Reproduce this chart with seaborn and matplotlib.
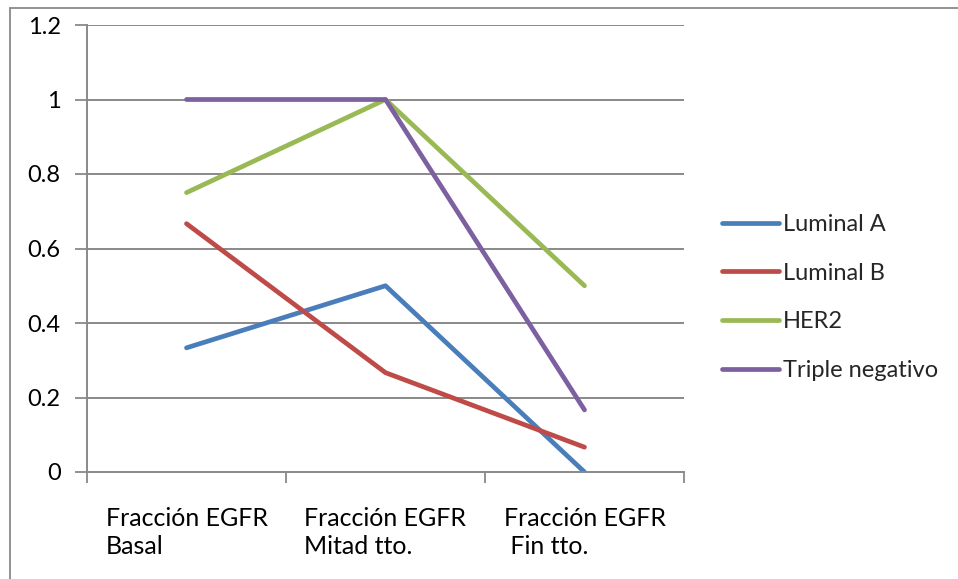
import matplotlib
matplotlib.use("Agg")
import matplotlib.pyplot as plt
from matplotlib.patches import Rectangle
import seaborn as sns
import pandas as pd

# Fraction of EGFR-positive cases per subtype at each treatment stage
stages = ["Fracción EGFR\nBasal", "Fracción EGFR\nMitad tto.", "Fracción EGFR\n Fin tto."]
luminal_a = [1 / 3, 0.5, 0.0]
luminal_b = [2 / 3, 4 / 15, 1 / 15]
her2 = [0.75, 1.0, 0.5]
triple_neg = [1.0, 1.0, 1 / 6]
series_names = ["Luminal A", "Luminal B", "HER2", "Triple negativo"]
colors = ["#4A7EBB", "#BE4B48", "#98B954", "#7D60A0"]
y_ticks = [0, 0.2, 0.4, 0.6, 0.8, 1, 1.2]
y_tick_labels = ["0", "0.2", "0.4", "0.6", "0.8", "1", "1.2"]

rows = []
for name, vals in zip(series_names, [luminal_a, luminal_b, her2, triple_neg]):
    for i, v in enumerate(vals):
        rows.append({"pos": i, "valor": v, "subtipo": name})
df = pd.DataFrame(rows)

sns.set_theme(style="white")
plt.rcParams["font.family"] = ["Lato", "DejaVu Sans"]
FS_X = 18
FS = 17

fig = plt.figure(figsize=(9.58, 5.79), dpi=100)
ax = fig.add_axes([87 / 958, 1 - 472 / 579, (684 - 87) / 958, (472 - 25) / 579])

grid_c = "#898989"
# outer chart frame
fig.patches.append(Rectangle((10 / 958, -0.1), 1.2, 1 - 8 / 579 + 0.1,
                             transform=fig.transFigure, fill=False,
                             edgecolor=grid_c, linewidth=1.3, zorder=0))

for y in y_ticks[1:]:
    ax.axhline(y, color=grid_c, linewidth=1.4, zorder=0)

sns.lineplot(data=df, x="pos", y="valor", hue="subtipo", hue_order=series_names,
             palette=colors, linewidth=3.4, sort=False, ax=ax, legend=False,
             solid_capstyle="round", solid_joinstyle="round")

ax.set_xlim(-0.5, 2.5)
ax.set_ylim(0, 1.2)
ax.set_yticks(y_ticks)
ax.set_yticklabels(y_tick_labels)
ax.set_xticks([0, 1, 2])
ax.set_xticklabels(stages, multialignment="left", linespacing=1.3)
ax.set_xticks([-0.5, 0.5, 1.5, 2.5], minor=True)
ax.tick_params(axis="x", which="major", length=0, pad=25, labelsize=FS_X, colors="black")
ax.tick_params(axis="x", which="minor", length=8, width=1.3, color=grid_c, direction="out", bottom=True)
ax.tick_params(axis="y", which="major", length=9, width=1.3, color=grid_c, direction="out",
               left=True, pad=10, labelsize=FS, labelcolor="black")
ax.set_xlabel("")
ax.set_ylabel("")

for s in ["top", "right"]:
    ax.spines[s].set_visible(False)
for s in ["left", "bottom"]:
    ax.spines[s].set_color(grid_c)
    ax.spines[s].set_linewidth(1.4)

handles = [plt.Line2D([], [], color=c, linewidth=3.4, solid_capstyle="round") for c in colors]
fig.legend(handles, series_names, loc="upper left",
           bbox_to_anchor=(722 / 958, 1 - 214 / 579), frameon=False,
           fontsize=FS, handlelength=2.4, handletextpad=0.17, labelspacing=1.17,
           borderaxespad=0, borderpad=0)

fig.savefig("out.png", dpi=100, facecolor="white")
